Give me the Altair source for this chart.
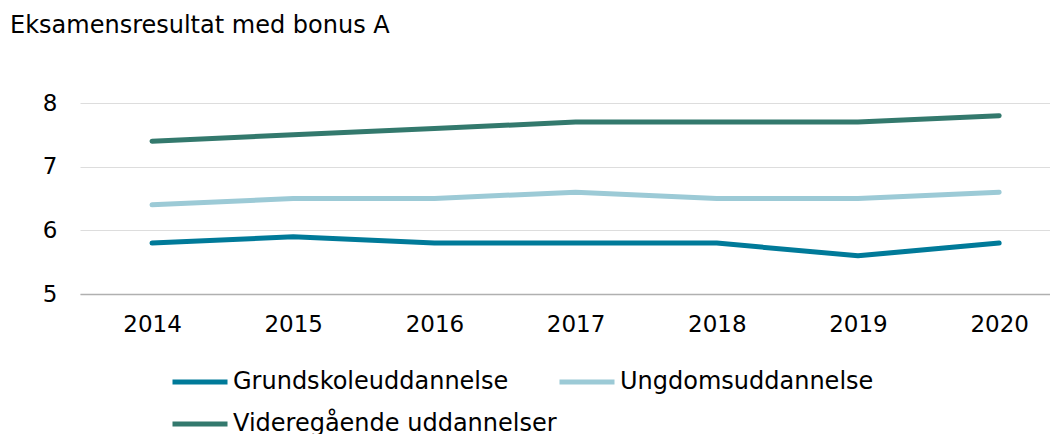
import altair as alt
import pandas as pd

years = [2014, 2015, 2016, 2017, 2018, 2019, 2020]
series_names = ["Grundskoleuddannelse", "Ungdomsuddannelse", "Videregående uddannelser"]
grund = [5.8, 5.9, 5.8, 5.8, 5.8, 5.6, 5.8]
ungdom = [6.4, 6.5, 6.5, 6.6, 6.5, 6.5, 6.6]
videre = [7.4, 7.5, 7.6, 7.7, 7.7, 7.7, 7.8]
colors = ["#007A99", "#9CCAD6", "#33796D"]

rows = []
for name, vals in zip(series_names, [grund, ungdom, videre]):
    for y, v in zip(years, vals):
        rows.append({"year": y, "value": v, "series": name})
df = pd.DataFrame(rows)

chart = alt.Chart(df).mark_line(strokeWidth=5, strokeCap="round", strokeJoin="round").encode(
    x=alt.X("year:Q", scale=alt.Scale(domain=[2013.49, 2020.36], nice=False, zero=False),
            axis=alt.Axis(values=years, format="d", title=None, grid=False, ticks=False,
                          domainColor="#b0b0b0", domainWidth=1.5, labelFontSize=23,
                          labelColor="#000000", labelPadding=19, labelFont="DejaVu Sans")),
    y=alt.Y("value:Q", scale=alt.Scale(domain=[5, 8], nice=False, zero=False),
            axis=alt.Axis(values=[5, 6, 7, 8], title=None, ticks=False, domain=False,
                          gridColor="#dddddd", gridWidth=1, labelFontSize=23,
                          labelColor="#000000", labelPadding=23, labelFont="DejaVu Sans")),
    color=alt.Color("series:N", scale=alt.Scale(domain=series_names, range=colors),
                    legend=alt.Legend(title=None, orient="none", legendX=90, legendY=249,
                                      columns=2, direction="horizontal",
                                      symbolType="stroke", symbolSize=3025,
                                      symbolStrokeWidth=5, labelFontSize=24,
                                      labelFont="DejaVu Sans", labelColor="#000000",
                                      labelLimit=500, labelOffset=3, columnPadding=-13,
                                      rowPadding=0)),
).properties(
    width=970, height=191,
    title=alt.TitleParams("Eksamensresultat med bonus A", anchor="start", frame="group",
                          dx=-70, offset=54, fontSize=24, font="DejaVu Sans",
                          fontWeight="normal", color="#000000"),
    autosize=alt.AutoSizeParams(type="none"),
    padding={"left": 72, "top": 95, "right": 0, "bottom": 140},
).configure_view(stroke=None)

chart.save("out.html", embed_options={"renderer": "svg", "actions": False})
